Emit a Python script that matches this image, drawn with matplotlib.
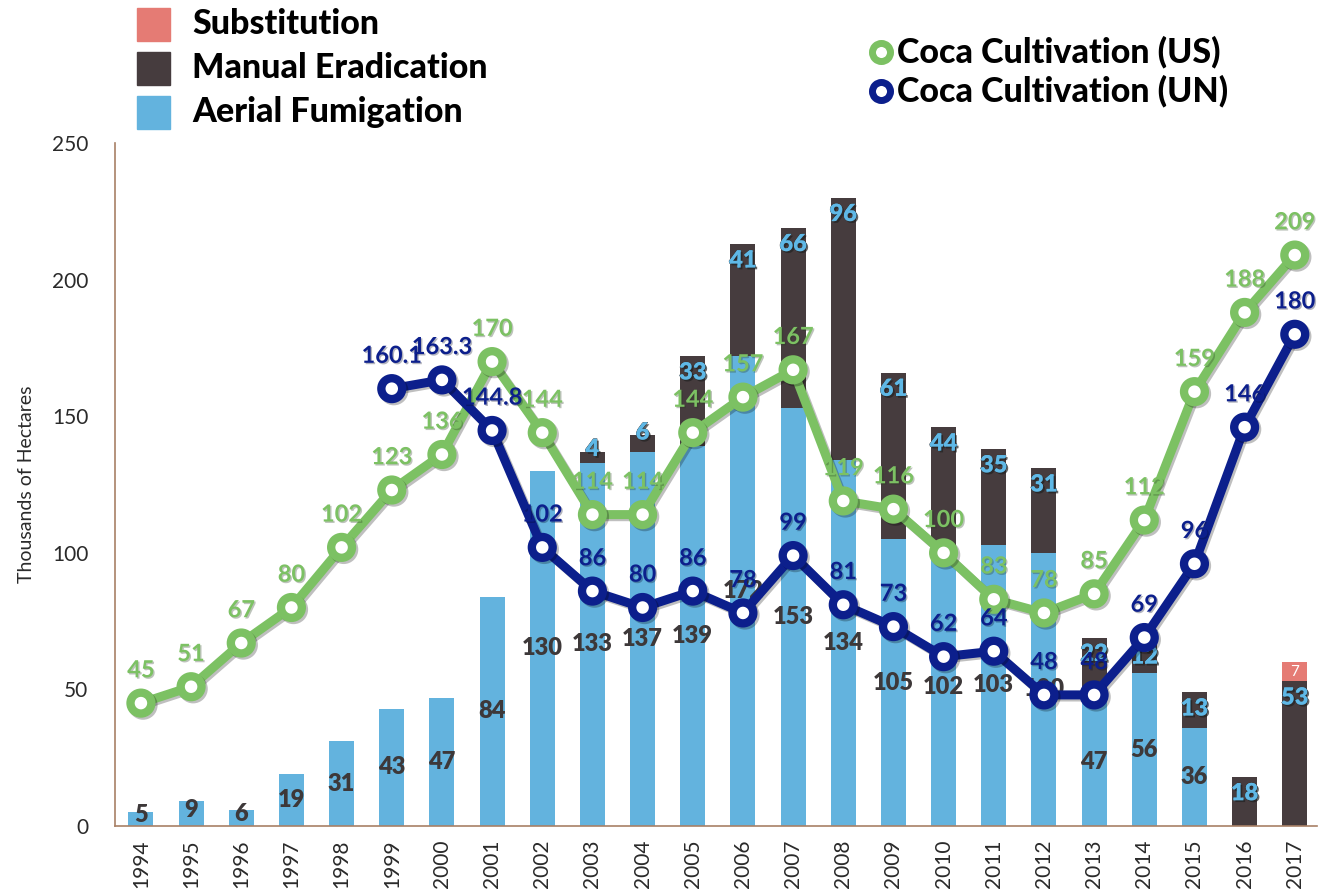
import matplotlib
matplotlib.use("Agg")
import matplotlib.pyplot as plt
import matplotlib.patheffects as pe
import numpy as np

# --- data -------------------------------------------------------------
anos = list(range(1994, 2018))
aereo = [5, 9, 6, 19, 31, 43, 47, 84, 130, 133, 137, 139, 172, 153, 134,
         105, 102, 103, 100, 47, 56, 36, 0, 0]
manual = [0, 0, 0, 0, 0, 0, 0, 0, 0, 4, 6, 33, 41, 66, 96,
          61, 44, 35, 31, 22, 12, 13, 18, 53]
substituicao = [0] * 23 + [7]
cultivo_us = [45, 51, 67, 80, 102, 123, 136, 170, 144, 114, 114, 144, 157,
              167, 119, 116, 100, 83, 78, 85, 112, 159, 188, 209]
anos_un = list(range(1999, 2018))
cultivo_un = [160.1, 163.3, 144.8, 102, 86, 80, 86, 78, 99, 81, 73, 62, 64,
              48, 48, 69, 96, 146, 180]

# --- cores ------------------------------------------------------------
AZUL_BARRA = '#63b3de'
ESCURO = '#463c3e'
ROSA = '#e57b74'
VERDE = '#7cc163'
AZUL_UN = '#0c1f8c'
MARROM = '#a88066'

plt.rcParams['font.family'] = ['Lato', 'DejaVu Sans']

fig = plt.figure(figsize=(13.2, 8.94), dpi=100)
ax = fig.add_axes([0.087, 0.076, 0.911, 0.764])

x = np.arange(len(anos))
x_un = np.array([anos.index(a) for a in anos_un])
larg = 0.5
aereo = np.array(aereo)
manual = np.array(manual)
substituicao = np.array(substituicao)

ax.bar(x, aereo, larg, color=AZUL_BARRA, zorder=2)
ax.bar(x, manual, larg, bottom=aereo, color=ESCURO, zorder=2)
ax.bar(x, substituicao, larg, bottom=aereo + manual, color=ROSA, zorder=2)

# rotulos das barras
for i in x:
    if aereo[i] > 0:
        ax.text(i, aereo[i] / 2 + (1.5 if aereo[i] < 10 else 0), str(aereo[i]),
                ha='center', va='center', fontsize=17, fontweight='heavy',
                color='#3d3839', zorder=3)
    if manual[i] > 0:
        topo = aereo[i] + manual[i]
        y = topo - 6 if manual[i] >= 10 else topo + 1
        ax.text(i, y, str(manual[i]), ha='center', va='center', fontsize=17,
                fontweight='heavy', color='#5fb8e6', zorder=3,
                path_effects=[pe.withStroke(linewidth=0.6, foreground='#333333'),
                              pe.SimplePatchShadow(offset=(1.3, -1.3), shadow_rgbFace='#222222', alpha=0.7),
                              pe.Normal()])
    if substituicao[i] > 0:
        ax.text(i, aereo[i] + manual[i] + substituicao[i] / 2, str(substituicao[i]),
                ha='center', va='center', fontsize=11, color='white', zorder=3)

# linhas
linha_sombra = [pe.SimpleLineShadow(offset=(1.5, -1.5), alpha=0.25), pe.Normal()]
ax.plot(x, cultivo_us, color=VERDE, lw=6.5, marker='o', ms=15, mew=6,
        mfc='white', mec=VERDE, zorder=4, path_effects=linha_sombra)
ax.plot(x_un, cultivo_un, color=AZUL_UN, lw=6.5, marker='o', ms=15, mew=6,
        mfc='white', mec=AZUL_UN, zorder=5, path_effects=linha_sombra)

efeito_rotulo = [pe.SimplePatchShadow(offset=(1, -1), alpha=0.3), pe.Normal()]
for xi, v in zip(x, cultivo_us):
    ax.annotate(f'{v:g}', (xi, v), xytext=(0, 24), textcoords='offset points',
                ha='center', va='center', fontsize=17, fontweight='bold',
                color=VERDE, zorder=6, path_effects=efeito_rotulo)
for xi, v in zip(x_un, cultivo_un):
    ax.annotate(f'{v:g}', (xi, v), xytext=(0, 24), textcoords='offset points',
                ha='center', va='center', fontsize=17, fontweight='bold',
                color=AZUL_UN, zorder=6, path_effects=efeito_rotulo)

# eixos
ax.set_xlim(-0.52, 23.45)
ax.set_ylim(0, 250)
ax.set_yticks(range(0, 251, 50))
ax.set_xticks(x)
ax.set_xticklabels([str(a) for a in anos], rotation=90)
ax.tick_params(axis='both', length=0, labelsize=15, colors='#2a2a2a')
ax.tick_params(axis='x', pad=10)
ax.tick_params(axis='y', pad=19)
for lado in ['top', 'right']:
    ax.spines[lado].set_visible(False)
for lado in ['left', 'bottom']:
    ax.spines[lado].set_color(MARROM)
    ax.spines[lado].set_linewidth(1.2)
ax.set_ylabel('Thousands of Hectares', fontsize=14, color='#2a2a2a', labelpad=12)

# legendas
itens = [('Substitution', ROSA), ('Manual Eradication', ESCURO),
         ('Aerial Fumigation', AZUL_BARRA)]
for k, (nome, cor) in enumerate(itens):
    yc = 1 - (24 + 44 * k) / 894
    fig.patches.append(plt.Rectangle((137 / 1320, yc - 17 / 894), 33 / 1320, 33 / 894,
                                     transform=fig.transFigure, color=cor))
    fig.text(192 / 1320, yc, nome, fontsize=24.5, fontweight='black', va='center')

for k, (nome, cor) in enumerate([('Coca Cultivation (US)', VERDE),
                                 ('Coca Cultivation (UN)', AZUL_UN)]):
    yc = 1 - (52 + 39 * k) / 894
    fig.lines.append(plt.Line2D([881 / 1320], [yc], marker='o', ms=13, mew=5,
                                mfc='white', mec=cor, transform=fig.transFigure))
    fig.text(897 / 1320, yc, nome, fontsize=24.5, fontweight='black', va='center')

fig.savefig('out.png', dpi=100)
